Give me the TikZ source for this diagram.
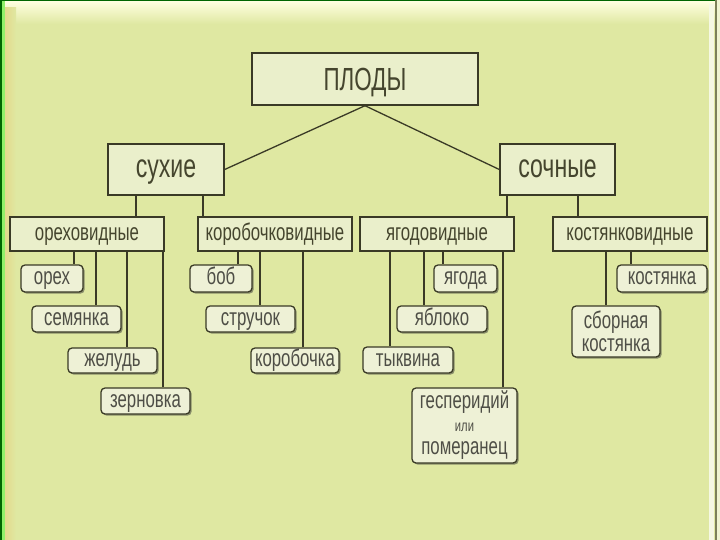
\documentclass[tikz,border=0pt]{standalone}
\usepackage{fontspec}
\setmainfont{Liberation Sans}[FakeStretch=0.7]
\usetikzlibrary{shadows}
\definecolor{bg}{HTML}{DFE8A2}
\definecolor{boxfill}{HTML}{EAEFCB}
\definecolor{leaffill}{HTML}{EEF1D6}
\definecolor{edge}{HTML}{3A3A26}
\definecolor{txt}{HTML}{45452E}
\definecolor{ltxt}{HTML}{4E4E46}
\tikzset{
  mainbox/.style={draw=edge, line width=1.4pt, fill=boxfill, text=txt, inner sep=0pt,
    drop shadow={shadow xshift=1.2pt, shadow yshift=-1.2pt, opacity=0.35, fill=black}},
  leafbox/.style={draw=edge, line width=1.3pt, fill=leaffill, text=ltxt, inner sep=0pt,
    rounded corners=4pt, align=center,
    drop shadow={shadow xshift=1.6pt, shadow yshift=-1.6pt, opacity=0.5, fill=black!80}},
  conn/.style={draw=edge, line width=1.3pt},
  big/.style={font=\fontsize{32}{34}\selectfont, text height=23pt, text depth=0pt},
  mid/.style={font=\fontsize{33}{35}\selectfont, text height=17pt, text depth=0pt},
  lvl/.style={font=\fontsize{24}{26}\selectfont, text height=12.5pt, text depth=0pt},
  leaf/.style={font=\fontsize{24}{26}\selectfont, text height=12.5pt, text depth=0pt},
  leafml/.style={font=\fontsize{24}{23}\selectfont},
}
\begin{document}
\begin{tikzpicture}[x=1pt,y=-1pt]
\useasboundingbox (0,0) rectangle (720,540);
% background and frame
\fill[bg] (0,0) rectangle (720,540);
\shade[top color=white!60!yellow!30, bottom color=bg] (3,1) rectangle (717,24);
\shade[left color=orange!15!bg, right color=bg] (4,8) rectangle (16,540);
\fill[green!40!black] (0,0) rectangle (2.2,540);
\fill[green!35!bg] (2.2,0) rectangle (4.5,540);
\fill[green!40!black] (0,0) rectangle (720,1.2);
\fill[white!70!bg] (709,4) rectangle (714,540);
\fill[black!45!bg] (715,0) rectangle (717,540);
\fill[white!50!bg] (717,0) rectangle (720,540);

% level 0 and 1
\node[mainbox, big, minimum width=226pt, minimum height=52pt] (plody) at (365,79) {ПЛОДЫ};
\node[mainbox, mid, minimum width=116pt, minimum height=51pt] (suhie) at (166,169.5) {сухие};
\node[mainbox, mid, minimum width=115pt, minimum height=51pt] (sochnye) at (557.5,169.5) {сочные};

% level 2
\node[mainbox, lvl, minimum width=154pt, minimum height=34pt] (oreh) at (87,234) {ореховидные};
\node[mainbox, lvl, minimum width=154pt, minimum height=34pt] (korob) at (275,234) {коробочковидные};
\node[mainbox, lvl, minimum width=154pt, minimum height=34pt] (yagod) at (437,234) {ягодовидные};
\node[mainbox, lvl, minimum width=154pt, minimum height=34pt] (kost) at (630,234) {костянковидные};

% leaves
\node[leafbox, leaf, minimum width=62pt, minimum height=27pt] (orekh) at (52,278.5) {орех};
\node[leafbox, leaf, minimum width=89pt, minimum height=26pt] (semyanka) at (76.5,319) {семянка};
\node[leafbox, leaf, minimum width=89pt, minimum height=25pt] (zhelud) at (112.5,360.5) {желудь};
\node[leafbox, leaf, minimum width=89pt, minimum height=26pt] (zernovka) at (145.5,401) {зерновка};

\node[leafbox, leaf, minimum width=62pt, minimum height=27pt] (bob) at (221,278.5) {боб};
\node[leafbox, leaf, minimum width=89pt, minimum height=26pt] (struchok) at (250.5,319) {стручок};
\node[leafbox, leaf, minimum width=88pt, minimum height=25pt] (korobochka) at (295,360.5) {коробочка};

\node[leafbox, leaf, minimum width=63pt, minimum height=27pt] (yagoda) at (465.5,278.5) {ягода};
\node[leafbox, leaf, minimum width=90pt, minimum height=26pt] (yabloko) at (442,319) {яблоко};
\node[leafbox, leaf, minimum width=90pt, minimum height=26pt] (tykvina) at (408,360) {тыквина};
\node[leafbox, leafml, minimum width=105pt, minimum height=75pt] (gesper) at (464.5,425.5)
  {гесперидий\\{\fontsize{16}{16}\selectfont или}\\померанец};

\node[leafbox, leaf, minimum width=90pt, minimum height=27pt] (kostyanka) at (662,278.5) {костянка};
\node[leafbox, leafml, minimum width=88pt, minimum height=51pt] (sbornaya) at (616,331.5) {сборная\\костянка};

% connectors
\draw[conn] (plody.south) -- (suhie.east);
\draw[conn] (plody.south) -- (sochnye.west);
\draw[conn] (suhie.south -| 136,0) -- (oreh.north -| 136,0);
\draw[conn] (suhie.south -| 203,0) -- (korob.north -| 203,0);
\draw[conn] (sochnye.south -| 507,0) -- (yagod.north -| 507,0);
\draw[conn] (sochnye.south -| 578,0) -- (kost.north -| 578,0);

\draw[conn] (oreh.south -| 74,0) -- (orekh.north -| 74,0);
\draw[conn] (oreh.south -| 96,0) -- (semyanka.north -| 96,0);
\draw[conn] (oreh.south -| 127,0) -- (zhelud.north -| 127,0);
\draw[conn] (oreh.south -| 163,0) -- (zernovka.north -| 163,0);

\draw[conn] (korob.south -| 238,0) -- (bob.north -| 238,0);
\draw[conn] (korob.south -| 260,0) -- (struchok.north -| 260,0);
\draw[conn] (korob.south -| 303,0) -- (korobochka.north -| 303,0);

\draw[conn] (yagod.south -| 443,0) -- (yagoda.north -| 443,0);
\draw[conn] (yagod.south -| 424,0) -- (yabloko.north -| 424,0);
\draw[conn] (yagod.south -| 390,0) -- (tykvina.north -| 390,0);
\draw[conn] (yagod.south -| 503,0) -- (gesper.north -| 503,0);

\draw[conn] (kost.south -| 631,0) -- (kostyanka.north -| 631,0);
\draw[conn] (kost.south -| 606,0) -- (sbornaya.north -| 606,0);
\end{tikzpicture}
\end{document}
